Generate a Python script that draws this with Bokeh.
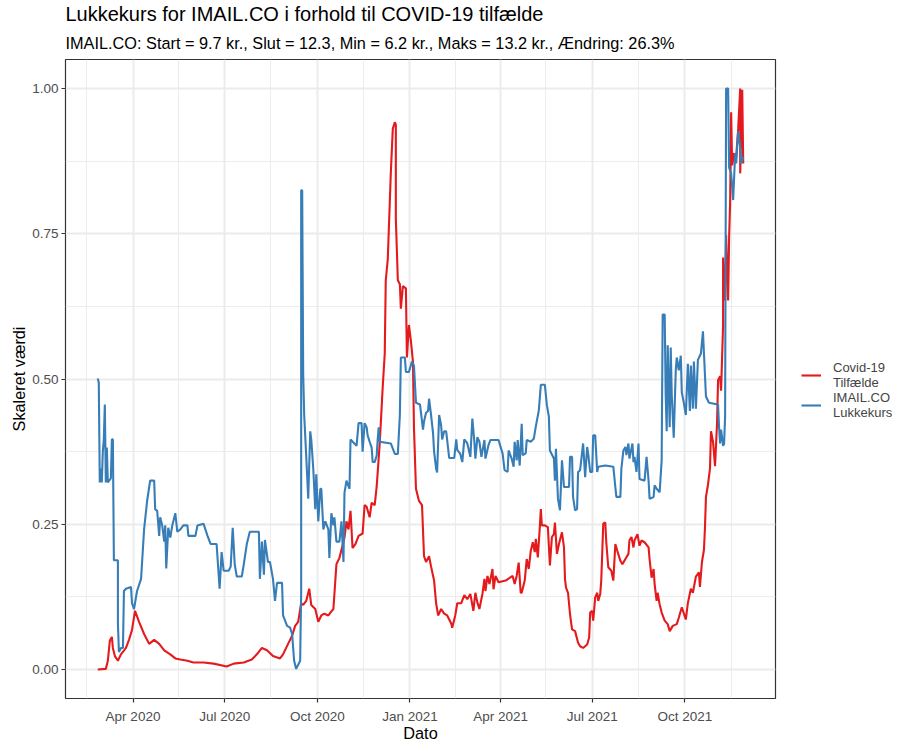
import pandas as pd
from bokeh.plotting import figure
from bokeh.models import (Range1d, FixedTicker, DatetimeTickFormatter, Legend,
                          LegendItem, Title, ColumnDataSource)
from bokeh.embed import file_html
from bokeh.resources import INLINE

# ---------------- data ----------------
start_date = "2020-02-26"

covid_days = [0, 8, 10, 12, 14, 15, 17, 20, 23, 28, 31, 34, 37, 41, 46, 51, 56, 61, 66, 72,
              77, 82, 89, 95, 105, 115, 128, 135, 145, 153, 158, 163, 168, 174, 181, 184, 189, 193, 196, 199,
              202, 204, 207, 210, 212, 216, 219, 222, 225, 229, 232, 234, 237, 240, 243, 245, 247, 249, 251, 253,
              256, 259, 263, 265, 267, 270, 272, 275, 277, 280, 283, 285, 286, 288, 290, 291, 293, 295, 296, 296,
              298, 300, 301, 303, 306, 307, 309, 311, 313, 314, 316, 319, 322, 324, 326, 329, 331, 334, 336, 338,
              341, 344, 347, 351, 352, 355, 357, 361, 364, 367, 370, 373, 375, 377, 379, 382, 384, 385, 387, 389,
              392, 393, 395, 398, 405, 412, 414, 416, 418, 420, 421, 424, 426, 428, 430, 432, 434, 435, 437, 439,
              440, 441, 444, 447, 449, 451, 453, 454, 456, 458, 461, 463, 464, 465, 467, 469, 471, 474, 477, 479,
              482, 486, 488, 489, 491, 492, 494, 496, 497, 499, 500, 502, 504, 505, 507, 510, 512, 514, 516, 519,
              521, 524, 527, 528, 530, 532, 533, 536, 538, 540, 543, 547, 548, 550, 552, 553, 555, 556, 558, 560,
              563, 566, 568, 571, 575, 577, 580, 584, 586, 589, 591, 594, 597, 598, 600, 602, 603, 604, 606, 608,
              609, 611, 613, 615, 616, 618, 619, 621, 621, 623, 624, 626, 627, 628, 629, 630, 632, 633, 634, 636,
              638, 638, 640, 641]
covid_values = [0.000, 0.001, 0.015, 0.050, 0.056, 0.037, 0.023, 0.015, 0.026, 0.037, 0.051, 0.068, 0.101, 0.082, 0.061, 0.044, 0.051, 0.044, 0.033, 0.026,
                0.019, 0.017, 0.015, 0.012, 0.012, 0.010, 0.005, 0.010, 0.012, 0.017, 0.026, 0.037, 0.033, 0.023, 0.019, 0.026, 0.044, 0.058, 0.075, 0.082,
                0.114, 0.111, 0.118, 0.139, 0.111, 0.104, 0.082, 0.093, 0.096, 0.093, 0.100, 0.104, 0.181, 0.192, 0.213, 0.227, 0.255, 0.241, 0.273, 0.209,
                0.216, 0.230, 0.234, 0.283, 0.280, 0.262, 0.287, 0.283, 0.315, 0.389, 0.487, 0.544, 0.670, 0.706, 0.804, 0.854, 0.931, 0.942, 0.938, 0.776,
                0.670, 0.663, 0.621, 0.660, 0.656, 0.537, 0.593, 0.565, 0.530, 0.417, 0.311, 0.290, 0.283, 0.195, 0.185, 0.195, 0.177, 0.153, 0.114, 0.093,
                0.104, 0.096, 0.093, 0.079, 0.072, 0.093, 0.114, 0.114, 0.128, 0.121, 0.130, 0.101, 0.132, 0.115, 0.104, 0.130, 0.156, 0.135, 0.161, 0.147,
                0.173, 0.138, 0.161, 0.150, 0.153, 0.161, 0.147, 0.161, 0.184, 0.132, 0.132, 0.153, 0.190, 0.173, 0.204, 0.219, 0.202, 0.225, 0.193, 0.245,
                0.276, 0.248, 0.248, 0.245, 0.179, 0.228, 0.233, 0.253, 0.199, 0.216, 0.236, 0.210, 0.156, 0.141, 0.132, 0.095, 0.069, 0.066, 0.046, 0.040,
                0.037, 0.043, 0.055, 0.098, 0.101, 0.084, 0.124, 0.132, 0.118, 0.130, 0.153, 0.251, 0.253, 0.219, 0.176, 0.170, 0.153, 0.216, 0.204, 0.187,
                0.181, 0.190, 0.199, 0.222, 0.228, 0.210, 0.222, 0.233, 0.213, 0.222, 0.219, 0.210, 0.190, 0.158, 0.173, 0.147, 0.118, 0.132, 0.112, 0.098,
                0.084, 0.078, 0.066, 0.075, 0.078, 0.089, 0.107, 0.086, 0.114, 0.139, 0.132, 0.160, 0.167, 0.142, 0.185, 0.206, 0.244, 0.297, 0.318, 0.346,
                0.410, 0.392, 0.350, 0.424, 0.498, 0.505, 0.480, 0.593, 0.709, 0.635, 0.748, 0.635, 0.744, 0.804, 0.959, 0.868, 0.889, 0.875, 0.882, 0.931,
                1.000, 0.854, 0.998, 0.871]

stock_days = [0, 1, 2, 3, 4, 5, 6, 7, 8, 9, 10, 13, 14, 15, 16, 20, 20, 21, 23, 25,
              26, 28, 33, 34, 36, 39, 43, 46, 49, 52, 56, 57, 59, 61, 62, 64, 66, 67, 68, 70,
              72, 74, 77, 79, 82, 85, 89, 90, 97, 99, 105, 109, 112, 118, 121, 123, 125, 130, 132, 134,
              136, 138, 143, 145, 148, 151, 160, 161, 163, 165, 166, 169, 171, 174, 176, 178, 183, 184, 188, 191,
              193, 195, 197, 201, 202, 202, 203, 204, 205, 207, 209, 211, 212, 214, 216, 217, 219, 221, 222, 224,
              226, 229, 230, 232, 234, 235, 237, 240, 242, 244, 245, 247, 250, 251, 257, 259, 262, 263, 265, 267,
              268, 270, 272, 273, 275, 277, 278, 279, 280, 291, 295, 298, 300, 301, 305, 306, 309, 312, 314, 316,
              320, 323, 324, 326, 328, 329, 331, 333, 334, 336, 337, 339, 341, 342, 344, 346, 349, 354, 356, 357,
              360, 362, 364, 367, 370, 372, 374, 375, 377, 379, 381, 384, 385, 388, 390, 398, 402, 404, 407, 408,
              411, 413, 414, 416, 417, 419, 421, 422, 425, 426, 430, 433, 435, 438, 440, 444, 446, 448, 449, 453,
              454, 455, 457, 459, 461, 463, 468, 469, 471, 472, 474, 476, 477, 479, 482, 484, 486, 487, 489, 491,
              492, 494, 496, 497, 504, 512, 514, 515, 519, 520, 522, 524, 525, 527, 528, 531, 532, 533, 535, 537,
              538, 543, 545, 547, 548, 552, 553, 555, 558, 560, 561, 563, 564, 565, 566, 568, 569, 570, 572, 574,
              575, 577, 579, 580, 582, 584, 586, 588, 589, 591, 592, 594, 596, 599, 601, 602, 604, 607, 616, 617,
              618, 619, 621, 622, 623, 624, 626, 627, 629, 631, 633, 634, 636, 638, 639, 641]
stock_values = [0.501, 0.494, 0.322, 0.346, 0.322, 0.375, 0.396, 0.456, 0.322, 0.382, 0.322, 0.329, 0.396, 0.396, 0.188, 0.188, 0.079, 0.030, 0.037, 0.037,
                0.135, 0.139, 0.142, 0.114, 0.104, 0.135, 0.156, 0.241, 0.290, 0.325, 0.325, 0.276, 0.273, 0.230, 0.262, 0.248, 0.220, 0.248, 0.174, 0.244,
                0.227, 0.248, 0.269, 0.237, 0.241, 0.248, 0.248, 0.230, 0.230, 0.248, 0.251, 0.230, 0.216, 0.216, 0.139, 0.202, 0.170, 0.170, 0.177, 0.244,
                0.181, 0.160, 0.160, 0.181, 0.216, 0.237, 0.237, 0.156, 0.220, 0.163, 0.223, 0.185, 0.185, 0.156, 0.118, 0.149, 0.149, 0.093, 0.075, 0.072,
                0.061, 0.015, 0.001, 0.015, 0.135, 0.825, 0.825, 0.508, 0.438, 0.368, 0.294, 0.410, 0.396, 0.346, 0.276, 0.336, 0.255, 0.311, 0.311, 0.241,
                0.255, 0.241, 0.192, 0.269, 0.248, 0.262, 0.220, 0.220, 0.255, 0.185, 0.304, 0.325, 0.311, 0.396, 0.385, 0.424, 0.424, 0.375, 0.424, 0.417,
                0.403, 0.392, 0.382, 0.357, 0.357, 0.368, 0.396, 0.417, 0.392, 0.389, 0.371, 0.371, 0.438, 0.537, 0.537, 0.512, 0.512, 0.530, 0.523, 0.459,
                0.456, 0.413, 0.427, 0.442, 0.445, 0.466, 0.438, 0.406, 0.375, 0.346, 0.339, 0.438, 0.420, 0.396, 0.410, 0.410, 0.364, 0.364, 0.396, 0.378,
                0.371, 0.357, 0.396, 0.389, 0.366, 0.432, 0.392, 0.363, 0.400, 0.392, 0.366, 0.395, 0.363, 0.386, 0.395, 0.395, 0.372, 0.343, 0.340, 0.377,
                0.363, 0.349, 0.392, 0.360, 0.395, 0.351, 0.423, 0.369, 0.372, 0.395, 0.392, 0.397, 0.418, 0.446, 0.490, 0.490, 0.455, 0.435, 0.377, 0.363,
                0.325, 0.380, 0.294, 0.274, 0.360, 0.314, 0.314, 0.366, 0.366, 0.297, 0.274, 0.276, 0.340, 0.343, 0.389, 0.331, 0.383, 0.372, 0.340, 0.340,
                0.403, 0.403, 0.340, 0.349, 0.351, 0.349, 0.314, 0.297, 0.297, 0.346, 0.377, 0.383, 0.369, 0.389, 0.363, 0.389, 0.357, 0.366, 0.340, 0.389,
                0.328, 0.325, 0.366, 0.325, 0.294, 0.297, 0.317, 0.311, 0.305, 0.360, 0.611, 0.611, 0.473, 0.410, 0.558, 0.417, 0.554, 0.473, 0.399, 0.515,
                0.537, 0.515, 0.540, 0.477, 0.459, 0.438, 0.526, 0.445, 0.523, 0.449, 0.530, 0.449, 0.533, 0.544, 0.582, 0.544, 0.470, 0.459, 0.456, 0.417,
                0.389, 0.413, 0.385, 0.389, 0.435, 1.000, 1.000, 0.864, 0.854, 0.808, 0.889, 0.871, 0.927, 0.899, 0.871, 0.882]

x_tick_dates = ["2020-04-01", "2020-07-01", "2020-10-01", "2021-01-01",
                "2021-04-01", "2021-07-01", "2021-10-01"]
x_minor_dates = ["2020-02-15", "2020-05-16", "2020-08-16", "2020-11-16",
                 "2021-02-15", "2021-05-16", "2021-08-16", "2021-11-16"]
y_ticks = [0.0, 0.25, 0.5, 0.75, 1.0]
y_minor_ticks = [0.125, 0.375, 0.625, 0.875]
y_tick_labels = ["0.00", "0.25", "0.50", "0.75", "1.00"]

title_text = "Lukkekurs for IMAIL.CO i forhold til COVID-19 tilfælde"
subtitle_text = ("IMAIL.CO: Start = 9.7 kr., Slut = 12.3, Min = 6.2 kr., "
                 "Maks = 13.2 kr., Ændring: 26.3%")
x_title = "Dato"
y_title = "Skaleret værdi"
legend_labels = ["Covid-19\nTilfælde", "IMAIL.CO\nLukkekurs"]
series_colors = ["#E41A1C", "#377EB8"]

# ---------------- build ----------------
FONT = "Liberation Sans"
start = pd.Timestamp(start_date)
covid_dates = start + pd.to_timedelta(covid_days, unit="D")
stock_dates = start + pd.to_timedelta(stock_days, unit="D")

def ms(d):
    return pd.Timestamp(d).value / 1e6

all_dates = list(covid_dates) + list(stock_dates)
dmin, dmax = min(all_dates), max(all_dates)
pad = (dmax - dmin) * 0.05

p = figure(frame_width=710, frame_height=639, x_axis_type="datetime",
           output_backend="svg", toolbar_location=None,
           min_border_left=65, min_border_right=128,
           min_border_top=58, min_border_bottom=40,
           x_range=Range1d(dmin - pad, dmax + pad),
           y_range=Range1d(-0.05, 1.05))

covid_src = ColumnDataSource(dict(x=covid_dates, y=covid_values))
stock_src = ColumnDataSource(dict(x=stock_dates, y=stock_values))
r_covid = p.line("x", "y", source=covid_src, line_color=series_colors[0], line_width=2.1)
r_stock = p.line("x", "y", source=stock_src, line_color=series_colors[1], line_width=2.1)

# titles
p.add_layout(Title(text=subtitle_text, text_font=FONT, text_font_size="16.3px",
                   text_font_style="normal", text_color="black", align="left",
                   text_line_height=0.8, standoff=15), "above")
p.add_layout(Title(text=title_text, text_font=FONT, text_font_size="20px",
                   text_font_style="normal", text_color="black", align="left",
                   text_line_height=1.0, standoff=0), "above")

# axes
p.xaxis.ticker = FixedTicker(ticks=[ms(d) for d in x_tick_dates],
                             minor_ticks=[ms(d) for d in x_minor_dates])
fmt = "%b %Y"
p.xaxis.formatter = DatetimeTickFormatter(microseconds=fmt, milliseconds=fmt, seconds=fmt,
                                          minsec=fmt, minutes=fmt, hourmin=fmt, hours=fmt,
                                          days=fmt, months=fmt, years=fmt)
p.yaxis.ticker = FixedTicker(ticks=y_ticks, minor_ticks=y_minor_ticks)
p.yaxis.major_label_overrides = {t: l for t, l in zip(y_ticks, y_tick_labels)}
p.xaxis.axis_label = x_title
p.yaxis.axis_label = y_title

for ax in (p.xaxis, p.yaxis):
    ax.axis_line_color = None
    ax.major_tick_line_color = "#333333"
    ax.major_tick_line_width = 1.2
    ax.major_tick_out = 4
    ax.major_tick_in = 0
    ax.minor_tick_line_color = None
    ax.major_label_text_font = FONT
    ax.major_label_text_font_size = "13.5px"
    ax.major_label_text_color = "#4D4D4D"
    ax.major_label_text_line_height = 1.0
    ax.axis_label_text_font = FONT
    ax.axis_label_text_font_size = "16.3px"
    ax.axis_label_text_font_style = "normal"
    ax.axis_label_text_color = "black"
    ax.axis_label_text_line_height = 1.0
p.xaxis.major_label_standoff = 6
p.xaxis.axis_label_standoff = -3
p.yaxis.major_label_standoff = 3
p.yaxis.axis_label_standoff = 1

for g in (p.xgrid, p.ygrid):
    g.grid_line_color = "#EBEBEB"
    g.grid_line_width = 1.9
    g.minor_grid_line_color = "#EBEBEB"
    g.minor_grid_line_width = 0.95

p.outline_line_color = "#333333"
p.outline_line_width = 1.2
p.background_fill_color = "white"
p.border_fill_color = "white"

legend = Legend(items=[LegendItem(label=legend_labels[0], renderers=[r_covid]),
                       LegendItem(label=legend_labels[1], renderers=[r_stock])],
                location=(26, 278), glyph_width=20, glyph_height=26,
                label_standoff=12, spacing=-4, padding=2, margin=0,
                label_text_font=FONT, label_text_font_size="13px",
                label_text_line_height=1.0, label_height=26,
                border_line_color=None, background_fill_alpha=0)
p.add_layout(legend, "right")

open("out.html", "w").write(file_html(p, INLINE))
